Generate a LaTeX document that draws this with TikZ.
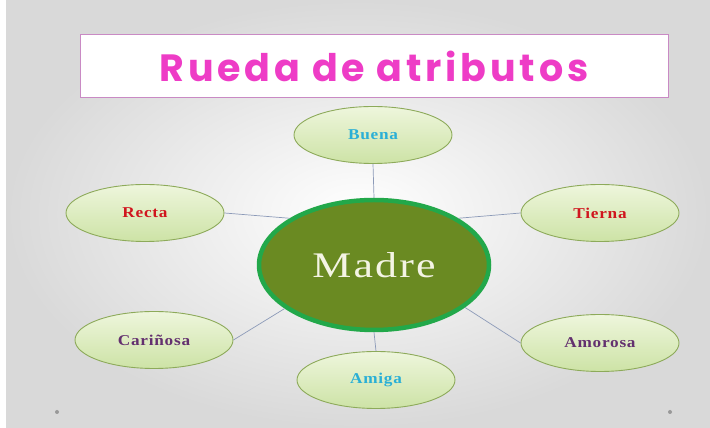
\documentclass[tikz,border=0pt]{standalone}
\usepackage{fontspec}
\setmainfont{Liberation Serif}
\newfontfamily\titlefont[LetterSpace=10]{Poppins}
\newfontfamily\labfont[LetterSpace=5,FakeStretch=1.15]{Liberation Serif}
\newfontfamily\madrefont[LetterSpace=6,FakeStretch=1.22]{Liberation Serif}
\usetikzlibrary{shapes.geometric}
\definecolor{bgout}{HTML}{D9D9D9}
\definecolor{pinktxt}{HTML}{EE3CC6}
\definecolor{pinkbox}{HTML}{C98AC4}
\definecolor{ellfillA}{HTML}{EEF6DC}
\definecolor{ellfillB}{HTML}{CDE3A6}
\definecolor{elldraw}{HTML}{8DAA5A}
\definecolor{madrefill}{HTML}{6A8A22}
\definecolor{madredraw}{HTML}{22A84A}
\definecolor{madretxt}{HTML}{F4F4E4}
\definecolor{cyantxt}{HTML}{2AAFD6}
\definecolor{redtxt}{HTML}{D0151E}
\definecolor{purtxt}{HTML}{63306F}
\definecolor{linecol}{HTML}{8C9AB8}
\tikzset{
  attr/.style={ellipse, draw=elldraw, line width=0.9pt, top color=ellfillA, bottom color=ellfillB,
    minimum width=158pt, minimum height=57pt, inner sep=0pt, font=\labfont\bfseries\fontsize{15}{17}\selectfont},
  conn/.style={draw=linecol, line width=0.7pt},
}
\begin{document}
\begin{tikzpicture}[x=1pt,y=1pt]
\useasboundingbox (0,0) rectangle (710,428);
\fill[white] (0,0) rectangle (710,428);
\shade[inner color=white, outer color=bgout] (6,0) rectangle (710,428);
% title
\node[draw=pinkbox, line width=1pt, fill=white, minimum width=588pt, minimum height=63pt, inner sep=0pt] (titlebox) at (374,361.5) {};
\node[text=pinktxt, font=\titlefont\bfseries\fontsize{38}{44}\selectfont] (title) at (374,362) {Rueda de atributos};
% nodes
\node[ellipse, draw=madredraw, line width=4.5pt, fill=madrefill, minimum width=230pt, minimum height=130pt, inner sep=0pt,
  text=madretxt, font=\madrefont\fontsize{36}{40}\selectfont] (madre) at (374,163) {Madre};
\node[attr, text=cyantxt] (buena) at (373,293) {Buena};
\node[attr, text=redtxt] (recta) at (145,215) {Recta};
\node[attr, text=redtxt] (tierna) at (600,215) {Tierna};
\node[attr, text=purtxt] (carinosa) at (154,88) {Cariñosa};
\node[attr, text=cyantxt] (amiga) at (376,48) {Amiga};
\node[attr, text=purtxt] (amorosa) at (600,85) {Amorosa};
% connectors
\draw[conn] (buena.south) -- (madre.north);
\draw[conn] (recta.east) -- (madre.151);
\draw[conn] (tierna.west) -- (madre.29);
\draw[conn] (carinosa.east) -- (madre.206);
\draw[conn] (amiga.north) -- (madre.south);
\draw[conn] (amorosa.west) -- (madre.-25);
% dots
\fill[gray!80] (57,16) circle (2pt) coordinate (dotl);
\fill[gray!80] (670,16) circle (2pt) coordinate (dotr);
\end{tikzpicture}
\end{document}
